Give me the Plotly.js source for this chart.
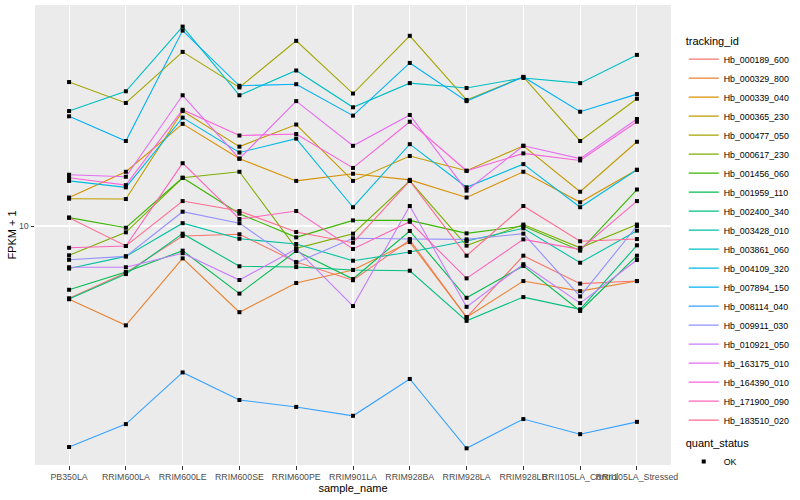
<!DOCTYPE html>
<html>
<head>
<meta charset="utf-8">
<script src="https://cdn.plot.ly/plotly-3.0.1.min.js"></script>
<style>html,body{margin:0;padding:0;background:#fff;}#chart{width:800px;height:500px;}</style>
</head>
<body>
<div id="chart"></div>
<script>
const categories = ['PB350LA','RRIM600LA','RRIM600LE','RRIM600SE','RRIM600PE','RRIM901LA','RRIM928BA','RRIM928LA','RRIM928LB','RRII105LA_Control','RRII105LA_Stressed'];

const trackingIds = ['Hb_000189_600','Hb_000329_800','Hb_000339_040','Hb_000365_230','Hb_000477_050','Hb_000617_230','Hb_001456_060','Hb_001959_110','Hb_002400_340','Hb_003428_010','Hb_003861_060','Hb_004109_320','Hb_007894_150','Hb_008114_040','Hb_009911_030','Hb_010921_050','Hb_163175_010','Hb_164390_010','Hb_171900_090','Hb_183510_020'];

const seriesColors = ['#F8766D','#EA8331','#D89000','#C09B00','#A3A500','#7CAE00','#39B600','#00BB4E','#00BF7D','#00C1A3','#00BFC4','#00BAE0','#00B0F6','#35A2FF','#9590FF','#C77CFF','#E76BF3','#FA62DB','#FF62BC','#FF6C91'];

// FPKM + 1 values, one array per tracking_id, in the order of categories
const hb_000189_600 = [6.04, 7.22, 9.33, 9.44, 7.78, 6.85, 9.07, 5.29, 8.13, 6.69, 6.81];
const hb_000329_800 = [6.00, 5.00, 7.98, 5.48, 6.72, 7.36, 8.94, 5.29, 6.81, 6.35, 6.81];
const hb_000339_040 = [12.2, 14.6, 20.4, 16.0, 13.7, 14.4, 13.8, 12.2, 14.6, 11.8, 14.8];
const hb_000365_230 = [12.1, 12.07, 22.3, 17.4, 20.3, 13.7, 16.3, 14.7, 17.5, 12.7, 18.0];
const hb_000477_050 = [27.3, 23.6, 33.7, 26.3, 36.4, 25.2, 37.7, 24.1, 28.3, 18.1, 24.3];
const hb_000617_230 = [8.15, 9.57, 14.0, 14.6, 8.56, 9.48, 13.7, 8.72, 10.1, 8.59, 10.1];
const hb_001456_060 = [10.6, 9.88, 14.0, 10.9, 9.24, 10.4, 10.4, 9.50, 10.0, 8.42, 12.9];
const hb_001959_110 = [6.41, 7.25, 8.42, 6.24, 8.40, 6.91, 9.66, 6.06, 7.57, 5.53, 8.13];
const hb_002400_340 = [6.01, 7.15, 9.48, 7.55, 7.51, 7.36, 7.32, 5.16, 6.09, 5.59, 8.74];
const hb_003428_010 = [7.43, 8.09, 10.2, 9.15, 8.82, 7.85, 8.34, 9.01, 9.84, 7.74, 9.68];
const hb_003861_060 = [22.3, 25.6, 40.2, 24.9, 29.6, 22.9, 27.1, 26.2, 28.1, 27.1, 33.0];
const hb_004109_320 = [13.7, 13.1, 21.3, 16.7, 18.4, 11.4, 17.7, 13.1, 15.4, 11.4, 14.8];
const hb_007894_150 = [21.5, 18.1, 39.1, 26.6, 26.9, 21.6, 31.2, 23.9, 28.3, 22.2, 25.1];
const hb_008114_040 = [2.14, 2.51, 3.60, 2.97, 2.83, 2.66, 3.44, 2.12, 2.60, 2.34, 2.55];
const hb_009911_030 = [7.90, 8.09, 11.05, 10.2, 7.74, 9.18, 9.13, 9.11, 9.48, 6.12, 10.0];
const hb_010921_050 = [7.50, 7.50, 8.27, 6.86, 8.52, 5.72, 11.5, 5.69, 7.66, 5.84, 7.89];
const hb_163175_010 = [14.3, 14.1, 24.9, 16.0, 23.9, 17.5, 21.7, 12.8, 17.5, 16.0, 21.1];
const hb_164390_010 = [14.0, 13.3, 22.5, 18.8, 19.0, 15.0, 20.7, 14.7, 16.6, 15.8, 20.7];
const hb_171900_090 = [8.59, 8.70, 15.5, 10.5, 11.1, 8.52, 10.3, 6.94, 9.11, 8.50, 11.9];
const hb_183510_020 = [10.6, 8.70, 11.9, 11.1, 9.59, 8.90, 13.7, 8.13, 11.5, 8.99, 9.13];

const seriesValues = [hb_000189_600, hb_000329_800, hb_000339_040, hb_000365_230, hb_000477_050, hb_000617_230, hb_001456_060, hb_001959_110, hb_002400_340, hb_003428_010, hb_003861_060, hb_004109_320, hb_007894_150, hb_008114_040, hb_009911_030, hb_010921_050, hb_163175_010, hb_164390_010, hb_171900_090, hb_183510_020];

const yTickVals = [10];
const yTickText = ['10'];

const FONT = 'Liberation Sans, Arial, Helvetica, sans-serif';

const traces = [];
seriesValues.forEach((vals, i) => {
  traces.push({
    type: 'scatter', mode: 'lines', name: trackingIds[i],
    x: categories, y: vals,
    line: {color: seriesColors[i], width: 1.1},
    legend: 'legend', hoverinfo: 'name+x+y'
  });
});
// all points, coloured by quant_status (all OK)
const px = [], py = [];
seriesValues.forEach(vals => { vals.forEach((v, j) => { px.push(categories[j]); py.push(v); }); });
traces.push({
  type: 'scatter', mode: 'markers', name: 'OK', x: px, y: py,
  marker: {symbol: 'square', size: 4, color: '#000000'},
  legend: 'legend2'
});

const layout = {
  width: 800, height: 500,
  margin: {l: 35, r: 116, t: 5, b: 35},
  paper_bgcolor: '#FFFFFF', plot_bgcolor: '#EBEBEB',
  font: {family: FONT, size: 8.8, color: '#4D4D4D'},
  showlegend: true,
  xaxis: {
    type: 'category', range: [-0.6, 10.6], tickangle: 0,
    showgrid: true, gridcolor: '#FFFFFF', gridwidth: 1.1, zeroline: false,
    ticks: 'outside', ticklen: 3.5, tickcolor: '#333333', tickwidth: 1,
    tickfont: {family: FONT, size: 8.8, color: '#4D4D4D'},
    showline: false,
    title: {text: 'sample_name', font: {family: FONT, size: 11, color: '#000000'}, standoff: 3},
    automargin: false
  },
  yaxis: {
    type: 'log', range: [0.2758, 1.6697],
    tickvals: yTickVals, ticktext: yTickText,
    showgrid: true, gridcolor: '#FFFFFF', gridwidth: 1.1, zeroline: false,
    ticks: 'outside', ticklen: 3.5, tickcolor: '#333333', tickwidth: 1,
    tickfont: {family: FONT, size: 8.8, color: '#4D4D4D'},
    showline: false,
    title: {text: 'FPKM + 1', font: {family: FONT, size: 11, color: '#000000'}, standoff: 0},
    automargin: false
  },
  legend: {
    x: 1.02, xanchor: 'left', y: 0.945, yanchor: 'top',
    title: {text: 'tracking_id', font: {family: FONT, size: 11, color: '#000000'}},
    font: {family: FONT, size: 8.8, color: '#000000'},
    bgcolor: 'rgba(0,0,0,0)', itemwidth: 30, tracegroupgap: 0, itemclick: false
  },
  legend2: {
    x: 1.02, xanchor: 'left', y: 0.07, yanchor: 'top',
    title: {text: 'quant_status', font: {family: FONT, size: 11, color: '#000000'}},
    font: {family: FONT, size: 8.8, color: '#000000'},
    bgcolor: 'rgba(0,0,0,0)', itemwidth: 30, itemclick: false
  }
};

Plotly.newPlot('chart', traces, layout, {staticPlot: true, displayModeBar: false});
</script>
</body>
</html>
